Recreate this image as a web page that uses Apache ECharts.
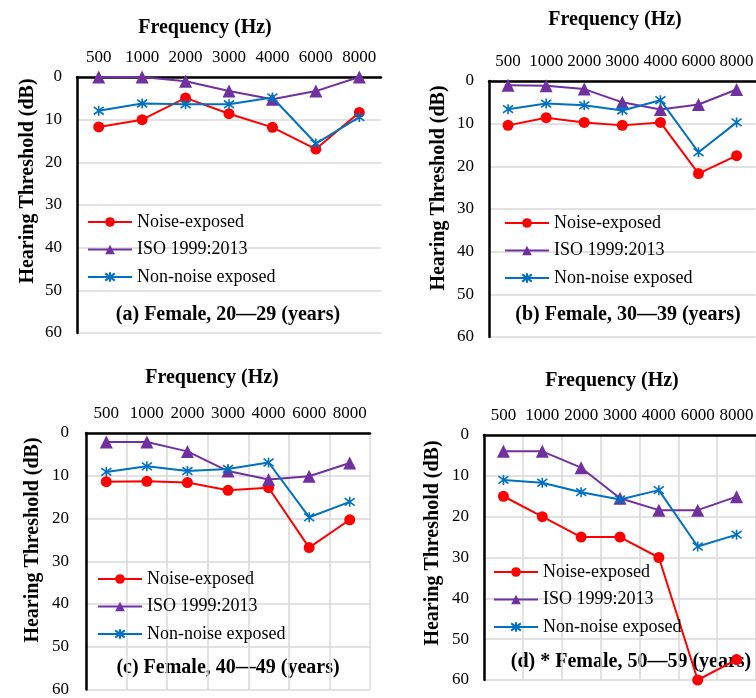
<!DOCTYPE html>
<html>
<head>
<meta charset="utf-8">
<script src="https://cdn.jsdelivr.net/npm/echarts@6/dist/echarts.min.js"></script>
<style>html,body{margin:0;padding:0;background:#fff;}#c{width:756px;height:698px;}</style>
</head>
<body>
<div id="c"></div>
<script>
// ---- data ----
var freqs = ['500', '1000', '2000', '3000', '4000', '6000', '8000'];
var seriesNames = ['Noise-exposed', 'ISO 1999:2013', 'Non-noise exposed'];
var yTicks = [0, 10, 20, 30, 40, 50, 60];

var aNoise = [11.7, 10.0, 4.9, 8.6, 11.8, 16.9, 8.3];
var aIso   = [0, 0, 1, 3.3, 5.2, 3.3, 0];
var aNon   = [7.9, 6.2, 6.4, 6.4, 4.8, 15.6, 9.4];

var bNoise = [10.4, 8.6, 9.7, 10.4, 9.7, 21.7, 17.5];
var bIso   = [1, 1.1, 1.9, 5, 6.7, 5.5, 2];
var bNon   = [6.6, 5.3, 5.7, 6.9, 4.5, 16.7, 9.7];

var cNoise = [11.4, 11.3, 11.6, 13.4, 12.8, 26.8, 20.3];
var cIso   = [2.1, 2.1, 4.3, 8.9, 10.9, 10.1, 7.0];
var cNon   = [9.1, 7.8, 8.9, 8.4, 6.9, 19.7, 16.1];

var dNoise = [15, 20, 25, 25, 30, 60, 55];
var dIso   = [4, 4, 8, 15.5, 18.4, 18.4, 15.1];
var dNon   = [11, 11.7, 14, 15.8, 13.5, 27.3, 24.4];

var panelTitles = ['(a) Female, 20\u201429 (years)', '(b) Female, 30\u201439 (years)',
                   '(c) Female, 40\u201449 (years)', '(d) * Female, 50\u201459 (years)'];
var xTitle = 'Frequency (Hz)';
var yTitle = 'Hearing Threshold (dB)';

// ---- layout / style ----
var FONT = '"Liberation Serif", "Times New Roman", serif';
var RED = '#ff0000', PURPLE = '#7030a0', BLUE = '#0070c0';
var STAR = 'path://M5,0L5,10M0.7,1.2L9.3,8.8M0.7,8.8L9.3,1.2';

var panels = [
  {grid: {left: 77, top: 77, width: 304, height: 256}, vgrid: false, data: [aNoise, aIso, aNon],
   xt: [205, 28], yt: [28, 181], st: [228, 315], lg: [87, 213], lm: 15},
  {grid: {left: 489, top: 81, width: 275, height: 256}, vgrid: false, data: [bNoise, bIso, bNon],
   xt: [615, 20], yt: [439, 188], st: [628, 315], lg: [504, 214], lm: 15},
  {grid: {left: 86, top: 433, width: 284, height: 257}, vgrid: true, data: [cNoise, cIso, cNon],
   xt: [212, 378], yt: [33, 540], st: [228, 668], lg: [97, 570], lm: 17},
  {grid: {left: 484, top: 435, width: 280, height: 245}, vgrid: true, data: [dNoise, dIso, dNon],
   xt: [612, 381], yt: [433, 543], st: [631, 662], lg: [493, 563], lm: 15}
];

var option = {
  animation: false,
  backgroundColor: '#fff',
  grid: [], xAxis: [], yAxis: [], series: [], legend: [], graphic: []
};

panels.forEach(function (p, i) {
  option.grid.push(Object.assign({containLabel: false}, p.grid));
  option.xAxis.push({
    type: 'category', gridIndex: i, data: freqs, position: 'top', boundaryGap: true,
    axisLine: {onZero: false, lineStyle: {color: '#000', width: 2.5}},
    axisTick: {show: false},
    axisLabel: {color: '#000', fontFamily: FONT, fontSize: 17, margin: 11, interval: 0},
    splitLine: {show: p.vgrid, lineStyle: {color: '#d9d9d9', width: 1.5}}
  });
  option.yAxis.push({
    type: 'value', gridIndex: i, inverse: true, min: yTicks[0], max: yTicks[yTicks.length - 1], interval: 10,
    axisLine: {show: true, onZero: false, lineStyle: {color: '#000', width: 2.5}},
    axisTick: {show: false},
    axisLabel: {color: '#000', fontFamily: FONT, fontSize: 17, margin: p.lm},
    splitLine: {show: true, lineStyle: {color: '#d9d9d9', width: 1.5}}
  });
  var styles = [
    {color: RED, symbol: 'circle', size: 11},
    {color: PURPLE, symbol: 'triangle', size: 13},
    {color: BLUE, symbol: STAR, size: 10}
  ];
  styles.forEach(function (s, k) {
    var ser = {
      type: 'line', name: seriesNames[k], xAxisIndex: i, yAxisIndex: i,
      data: p.data[k], symbol: s.symbol, symbolSize: s.size, showSymbol: true,
      lineStyle: {color: s.color, width: 2},
      itemStyle: {color: s.color},
      clip: false, z: 2 + k
    };
    if (k === 2) {
      ser.itemStyle = {color: 'rgba(0,0,0,0)', borderColor: s.color, borderWidth: 1.6};
    }
    option.series.push(ser);
  });
  option.legend.push({
    orient: 'vertical', left: p.lg[0], top: p.lg[1], padding: 0,
    itemWidth: 44, itemHeight: 12, itemGap: 9.5,
    data: seriesNames,
    textStyle: {color: '#000', fontFamily: FONT, fontSize: 18}
  });
  option.graphic.push({
    type: 'text', x: p.xt[0], y: p.xt[1],
    style: {text: xTitle, align: 'center', verticalAlign: 'middle',
            font: 'bold 20px ' + FONT, fill: '#000'}
  });
  option.graphic.push({
    type: 'text', x: p.yt[0], y: p.yt[1], rotation: Math.PI / 2,
    style: {text: yTitle, align: 'center', verticalAlign: 'middle',
            font: 'bold 20px ' + FONT, fill: '#000'}
  });
  option.graphic.push({
    type: 'text', x: p.st[0], y: p.st[1],
    style: {text: panelTitles[i], align: 'center', verticalAlign: 'middle',
            font: 'bold 20px ' + FONT, fill: '#000'}
  });
});

var chart = echarts.init(document.getElementById('c'), null, {renderer: 'canvas'});
chart.setOption(option);
</script>
</body>
</html>
